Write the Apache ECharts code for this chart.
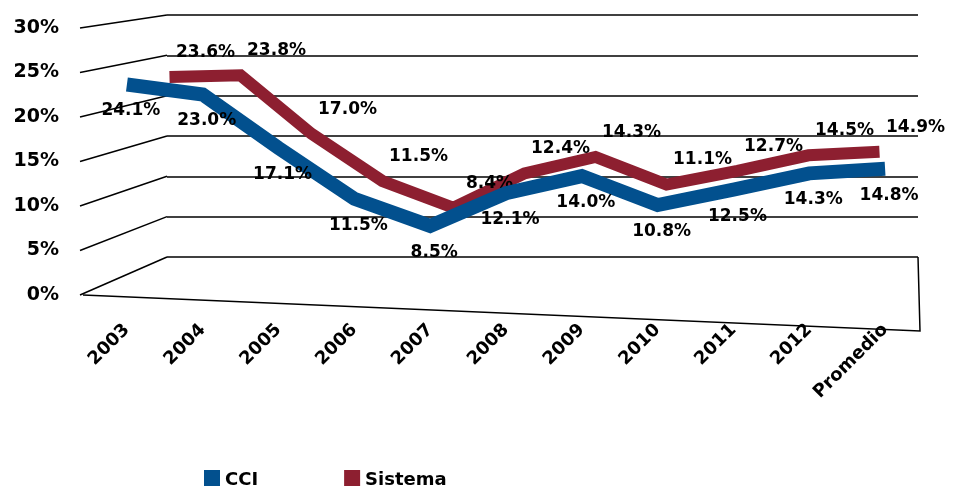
<!DOCTYPE html>
<html>
<head>
<meta charset="utf-8">
<script src="https://cdn.jsdelivr.net/npm/echarts@6/dist/echarts.min.js"></script>
<style>
  html, body { margin: 0; padding: 0; background: #fff; }
  #chart { width: 955px; height: 486px; }
</style>
</head>
<body>
<div id="chart"></div>
<script>
// datos
var categories = ['2003', '2004', '2005', '2006', '2007', '2008', '2009', '2010', '2011', '2012', 'Promedio'];
var cciValues = [24.1, 23.0, 17.1, 11.5, 8.5, 12.1, 14.0, 10.8, 12.5, 14.3, 14.8];
var sistemaValues = [23.6, 23.8, 17.0, 11.5, 8.4, 12.4, 14.3, 11.1, 12.7, 14.5, 14.9];
var yTicks = [0, 5, 10, 15, 20, 25, 30];

var font = 'DejaVu Sans';
var blue = '#02508e';
var red = '#8d1f30';

var chart = echarts.init(document.getElementById('chart'));

function pct(p) { return p.value.toFixed(1) + '%'; }

var yBase = { type: 'value', min: yTicks[0], max: yTicks[yTicks.length - 1], interval: 5 };

var option = {
    animation: false,
    backgroundColor: '#fff',
    // 0: pared del fondo, 1: Sistema, 2: CCI, 3: etiquetas del eje
    grid: [
        { left: 167, right: 37, top: 15, height: 242 },
        { left: 134, right: 40, top: 22, height: 258 },
        { left: 89, right: 32, top: 31, height: 272 },
        { left: 89, right: 32, top: 28, height: 267 }
    ],
    xAxis: [
        { type: 'value', gridIndex: 0, min: 0, max: 1, show: false },
        { type: 'category', gridIndex: 1, data: categories, show: false },
        {
            type: 'category', gridIndex: 2, data: categories,
            axisLine: { show: false }, axisTick: { show: false },
            axisLabel: { rotate: 45, margin: 24, color: '#000', fontFamily: font, fontWeight: 'bold', fontSize: 18 }
        },
        { type: 'value', gridIndex: 3, min: 0, max: 1, show: false }
    ],
    yAxis: [
        Object.assign({ gridIndex: 0, axisLabel: { show: false }, axisLine: { show: false }, axisTick: { show: false },
            splitLine: { lineStyle: { color: '#000', width: 1.5 } } }, yBase),
        Object.assign({ gridIndex: 1, show: false, splitLine: { show: false } }, yBase),
        Object.assign({ gridIndex: 2, show: false, splitLine: { show: false } }, yBase),
        Object.assign({ gridIndex: 3, axisLine: { show: false }, axisTick: { show: false }, splitLine: { show: false },
            axisLabel: { margin: 30, color: '#000', fontFamily: font, fontWeight: 'bold', fontSize: 19,
                formatter: function (v) { return v + '%'; } } }, yBase)
    ],
    legend: {
        data: ['CCI', 'Sistema'],
        left: 199, top: 465,
        icon: 'rect', itemWidth: 16, itemHeight: 20, itemGap: 86, itemTextGap: 7,
        textStyle: { color: '#000', fontFamily: font, fontWeight: 'bold', fontSize: 18 }
    },
    series: [
        {
            name: 'Sistema', type: 'line', xAxisIndex: 1, yAxisIndex: 1, z: 2,
            data: sistemaValues, symbol: 'circle', symbolSize: 0, showSymbol: true, color: red,
            itemStyle: { color: red },
            lineStyle: { color: red, width: 12, join: 'miter' },
            label: { show: true, position: 'top', distance: 4, offset: [36, -12], formatter: pct,
                color: '#000', fontFamily: font, fontWeight: 'bold', fontSize: 17 }
        },
        {
            name: 'CCI', type: 'line', xAxisIndex: 2, yAxisIndex: 2, z: 3,
            data: cciValues, symbol: 'circle', symbolSize: 0, showSymbol: true, color: blue,
            itemStyle: { color: blue },
            lineStyle: { color: blue, width: 14, join: 'miter' },
            label: { show: true, position: 'bottom', distance: 4, offset: [4, 14], formatter: pct,
                color: '#000', fontFamily: font, fontWeight: 'bold', fontSize: 17 }
        }
    ]
};
chart.setOption(option);

// paredes laterales y piso, a partir de las escalas de los ejes
var lines = yTicks.map(function (v) {
    return {
        type: 'line', silent: true, z: 1,
        shape: {
            x1: 80, y1: chart.convertToPixel({ yAxisIndex: 3 }, v),
            x2: 167, y2: chart.convertToPixel({ yAxisIndex: 0 }, v)
        },
        style: { stroke: '#000', lineWidth: 1.5 }
    };
});
var y0Front = chart.convertToPixel({ yAxisIndex: 3 }, 0);
var y0Back = chart.convertToPixel({ yAxisIndex: 0 }, 0);
lines.push({
    type: 'polyline', silent: true, z: 1,
    shape: { points: [[83, y0Front], [920, y0Front + 36], [918, y0Back]] },
    style: { stroke: '#000', lineWidth: 1.5, fill: null }
});
chart.setOption({ graphic: lines });
</script>
</body>
</html>
